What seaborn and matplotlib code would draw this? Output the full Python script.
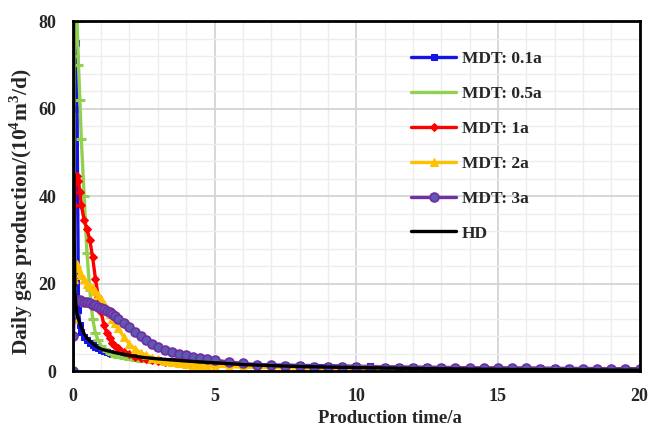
import matplotlib
matplotlib.use("Agg")
import matplotlib.pyplot as plt
import seaborn as sns
import numpy as np
import pandas as pd
from matplotlib.ticker import MultipleLocator

# ---------------- data ----------------
t_mdt = [0, 0.02, 0.05, 0.1, 0.15, 0.2, 0.25, 0.3, 0.4, 0.5,
         0.6, 0.7, 0.8, 0.9, 1.0, 1.1, 1.2, 1.3, 1.4, 1.5,
         1.6, 1.8, 2.0, 2.2, 2.4, 2.6, 2.8, 3.0, 3.25, 3.5,
         3.75, 4.0, 4.25, 4.5, 4.75, 5.0, 5.5, 6.0, 6.5, 7.0,
         7.5, 8.0, 8.5, 9.0, 9.5, 10, 10.5, 11, 11.5, 12,
         12.5, 13, 13.5, 14, 14.5, 15, 15.5, 16, 16.5, 17,
         17.5, 18, 18.5, 19, 19.5, 20]

q_01a = [0, 82, 80, 75, 60, 14, 10.5, 9.0, 7.8, 7.0,
         6.4, 5.9, 5.5, 5.2, 4.9, 4.6, 4.4, 4.2, 4.0, 3.8,
         3.6, 3.4, 3.2, 3.0, 2.85, 2.7, 2.55, 2.45, 2.3, 2.2,
         2.1, 2.0, 1.9, 1.85, 1.8, 1.7, 1.6, 1.5, 1.45, 1.4,
         1.35, 1.3, 1.25, 1.2, 1.15, 1.1, 1.05, 1.0, 0.95, 0.9,
         0.88, 0.85, 0.8, 0.78, 0.75, 0.72, 0.7, 0.68, 0.65, 0.62,
         0.6, 0.58, 0.56, 0.54, 0.52, 0.5]

q_05a = [0, 45, 72, 84, 80, 70, 62, 53, 40, 27,
         18.5, 12, 8.6, 7.0, 5.8, 5.0, 4.5, 4.1, 3.8, 3.5,
         3.3, 3.0, 2.75, 2.55, 2.4, 2.25, 2.15, 2.05, 1.95, 1.85,
         1.75, 1.65, 1.6, 1.55, 1.5, 1.45, 1.35, 1.3, 1.25, 1.2,
         1.15, 1.1, 1.05, 1.0, 0.98, 0.95, 0.92, 0.9, 0.87, 0.85,
         0.82, 0.8, 0.78, 0.75, 0.72, 0.7, 0.68, 0.66, 0.64, 0.62,
         0.6, 0.58, 0.56, 0.54, 0.52, 0.5]

q_1a = [0, 20, 38, 44, 44.5, 43.5, 41, 38, 34.5, 32.5,
        30, 26, 21, 17, 13.5, 10.5, 8.7, 7.5, 6.5, 5.8,
        5.2, 4.4, 3.8, 3.3, 3.0, 2.7, 2.5, 2.3, 2.15, 2.0,
        1.9, 1.8, 1.7, 1.65, 1.6, 1.5, 1.4, 1.3, 1.25, 1.2,
        1.12, 1.06, 1.0, 0.96, 0.92, 0.88, 0.85, 0.82, 0.8, 0.77,
        0.74, 0.72, 0.7, 0.68, 0.66, 0.64, 0.62, 0.6, 0.58, 0.56,
        0.55, 0.53, 0.52, 0.5, 0.49, 0.48]

q_2a = [0, 12, 21, 24, 24.5, 23.5, 22.5, 22, 21, 20,
        19.5, 19, 18.2, 17.5, 16.5, 15.3, 14.2, 13, 12, 11,
        9.8, 7.8, 6.2, 5.0, 4.2, 3.6, 3.1, 2.7, 2.3, 2.0,
        1.8, 1.6, 1.45, 1.35, 1.25, 1.15, 1.0, 0.9, 0.82, 0.76,
        0.72, 0.68, 0.65, 0.62, 0.6, 0.58, 0.56, 0.54, 0.52, 0.5,
        0.49, 0.48, 0.46, 0.45, 0.44, 0.43, 0.42, 0.41, 0.4, 0.39,
        0.38, 0.37, 0.36, 0.35, 0.34, 0.33]

q_3a = [0, 8, 13, 16, 16.3, 16.3, 16.2, 16.1, 15.9, 15.7,
        15.5, 15.2, 15.0, 14.7, 14.4, 14.1, 13.8, 13.4, 13.0, 12.5,
        12.0, 11.0, 10.0, 9.0, 8.0, 7.1, 6.3, 5.6, 4.9, 4.4,
        3.95, 3.6, 3.3, 3.0, 2.75, 2.5, 2.1, 1.75, 1.5, 1.3,
        1.15, 1.05, 0.98, 0.92, 0.88, 0.85, 0.82, 0.8, 0.78, 0.76,
        0.74, 0.72, 0.7, 0.68, 0.66, 0.64, 0.62, 0.6, 0.58, 0.56,
        0.55, 0.53, 0.52, 0.5, 0.49, 0.48]

t_hd = [0.005, 0.02, 0.03, 0.05, 0.08, 0.1, 0.15, 0.2, 0.3, 0.4, 0.5, 0.75,
        1.0, 1.5, 2.0, 2.5, 3.0, 4.0, 5.0, 6.0, 7.0, 8.0, 10, 12, 14, 16, 18, 20]
q_hd = [140, 100, 60, 30, 18, 15.5, 13, 11.8, 10, 8.5, 7.5, 6.0,
        5.0, 4.2, 3.6, 3.1, 2.8, 2.3, 1.9, 1.5, 1.25, 1.05, 0.8, 0.6, 0.45, 0.35, 0.28, 0.2]

labels = ["MDT: 0.1a", "MDT: 0.5a", "MDT: 1a", "MDT: 2a", "MDT: 3a", "HD"]

# ---------------- style ----------------
sns.set_theme(style="white")
plt.rcParams["font.family"] = ["Liberation Serif", "DejaVu Serif"]
plt.rcParams["font.weight"] = "bold"
plt.rcParams["mathtext.fontset"] = "custom"
plt.rcParams["mathtext.rm"] = "Liberation Serif:bold"
plt.rcParams["mathtext.bf"] = "Liberation Serif:bold"

fig = plt.figure(figsize=(6.5, 4.32), dpi=100)
ax = fig.add_axes([0.112, 0.141, 0.872, 0.810])

styles = [
    dict(color="#1414E6", marker="s", markersize=4.2, mec="#1414E6", mfc="#1414E6"),
    dict(color="#92D050", marker="_", markersize=7, mec="#92D050", mew=2.2),
    dict(color="#FF0000", marker="D", markersize=4.2, mec="#FF0000", mfc="#FF0000"),
    dict(color="#FFC000", marker="^", markersize=6, mec="#FFC000", mfc="#FFC000"),
    dict(color="#7030A0", marker="o", markersize=6.3, mec="#7030A0", mfc="#5B5BB5", mew=1.3),
]
series = [q_01a, q_05a, q_1a, q_2a, q_3a]

for q, lab, st in zip(series, labels[:5], styles):
    df = pd.DataFrame({"t": t_mdt, "q": q})
    sns.lineplot(data=df, x="t", y="q", ax=ax, sort=False, label=lab,
                 linewidth=2.4, **st)

df_hd = pd.DataFrame({"t": t_hd, "q": q_hd})
sns.lineplot(data=df_hd, x="t", y="q", ax=ax, sort=False, label=labels[5],
             color="black", linewidth=2.4)

ax.set_xlim(0, 20)
ax.set_ylim(0, 80)
ax.xaxis.set_major_locator(MultipleLocator(5))
ax.xaxis.set_minor_locator(MultipleLocator(1))
ax.yaxis.set_major_locator(MultipleLocator(20))
ax.yaxis.set_minor_locator(MultipleLocator(4))
ax.grid(which="major", color="#D4D4D4", linewidth=1.3)
ax.grid(which="minor", color="#EDEDED", linewidth=1.0)
ax.set_axisbelow(True)

for s in ax.spines.values():
    s.set_color("black")
    s.set_linewidth(2)

ax.tick_params(axis="both", which="both", length=0, labelsize=13, pad=12)
for lbl in ax.get_xticklabels() + ax.get_yticklabels():
    lbl.set_fontweight("bold")

ax.set_xlabel("Production time/a", fontsize=13.5, fontweight="bold")
ax.set_ylabel(r"Daily gas production/(10$^{4}$m$^{3}$/d)", fontsize=15.5, fontweight="bold")
ax.xaxis.set_label_coords(0.56, -0.112)
ax.yaxis.set_label_coords(-0.066, 0.454)

leg = ax.legend(loc="upper left", bbox_to_anchor=(0.585, 0.935), frameon=False,
                fontsize=12.5, labelspacing=1.08, handlelength=2.6, handletextpad=0.3,
                borderaxespad=0)
for txt in leg.get_texts():
    txt.set_fontweight("bold")

fig.savefig("out.png", dpi=100)
